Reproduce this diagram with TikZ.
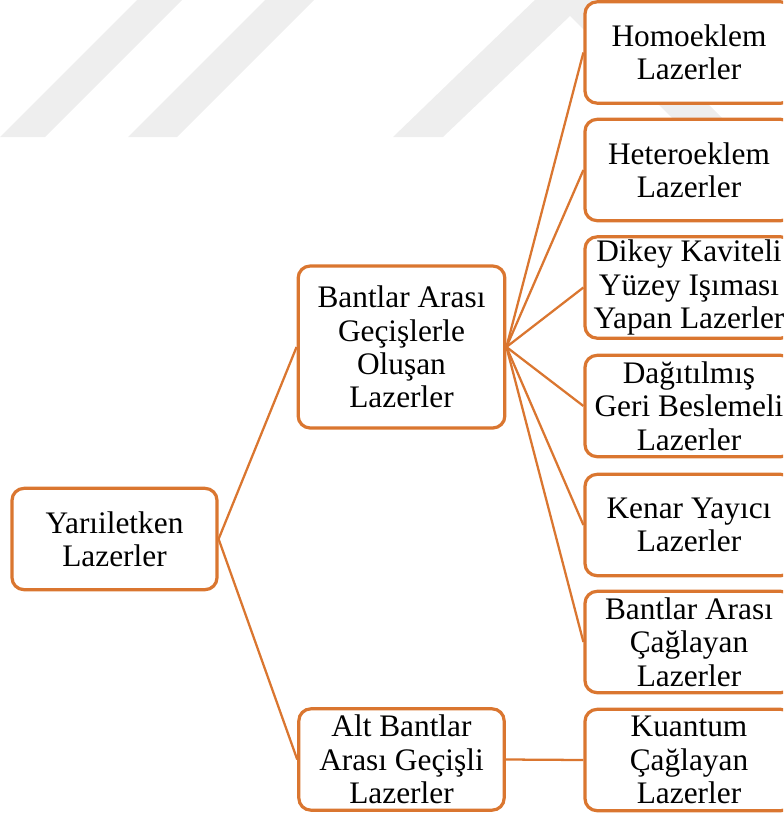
\documentclass[tikz,border=0pt]{standalone}
\usepackage{fontspec}
\setmainfont{Liberation Serif}
\usetikzlibrary{backgrounds}
\definecolor{boxorange}{RGB}{218,118,48}
\definecolor{wmgray}{RGB}{238,238,238}
\tikzset{
  box/.style={draw=boxorange, line width=2.4pt, fill=white, rounded corners=9pt,
    minimum width=#1, minimum height=76pt, inner sep=0pt, align=center,
    font=\fontsize{23.5pt}{25pt}\selectfont},
  box/.default=156pt,
  link/.style={draw=boxorange, line width=1.7pt}
}
\begin{document}
\begin{tikzpicture}[x=0.75pt,y=-0.75pt]
\useasboundingbox (0,0) rectangle (783,814);
\clip (0,0) rectangle (783,814);
% watermark
\fill[wmgray] (0,137) -- (45,137) -- (182,0) -- (137,0) -- cycle;
\fill[wmgray] (128,137) -- (177,137) -- (314,0) -- (265,0) -- cycle;
\fill[wmgray] (393,137) -- (443,137) -- (570,16) -- (691,137) -- (741,137) -- (570,-34) -- cycle;
% nodes
\node[box=153.75pt] (Y) at (114.5,539) {Yarıiletken\\Lazerler};
\node[box=155pt, minimum height=121.5pt] (B) at (401.5,347) {Bantlar Arası\\Geçişlerle\\Oluşan\\Lazerler};
\node[box=154pt] (A) at (401.5,759.5) {Alt Bantlar\\Arası Geçişli\\Lazerler};
\node[box] (R1) at (689,52.5) {Homoeklem\\Lazerler};
\node[box] (R2) at (689,170) {Heteroeklem\\Lazerler};
\node[box] (R3) at (689,287.5) {Dikey Kaviteli\\Yüzey Işıması\\Yapan Lazerler};
\node[box] (R4) at (689,406) {Dağıtılmış\\Geri Beslemeli\\Lazerler};
\node[box] (R5) at (689,525) {Kenar Yayıcı\\Lazerler};
\node[box] (R6) at (689,642) {Bantlar Arası\\Çağlayan\\Lazerler};
\node[box] (R7) at (689,760) {Kuantum\\Çağlayan\\Lazerler};
% connectors
\begin{scope}[on background layer]
\clip (0,0) rectangle (783,814);
\draw[link] (Y.east) -- (B.west);
\draw[link] (Y.east) -- (A.west);
\foreach \r in {R1,R2,R3,R4,R5,R6}{
  \draw[link] (B.east) -- (\r.west);
}
\draw[link] (A.east) -- (R7.west);
\end{scope}
\end{tikzpicture}
\end{document}
